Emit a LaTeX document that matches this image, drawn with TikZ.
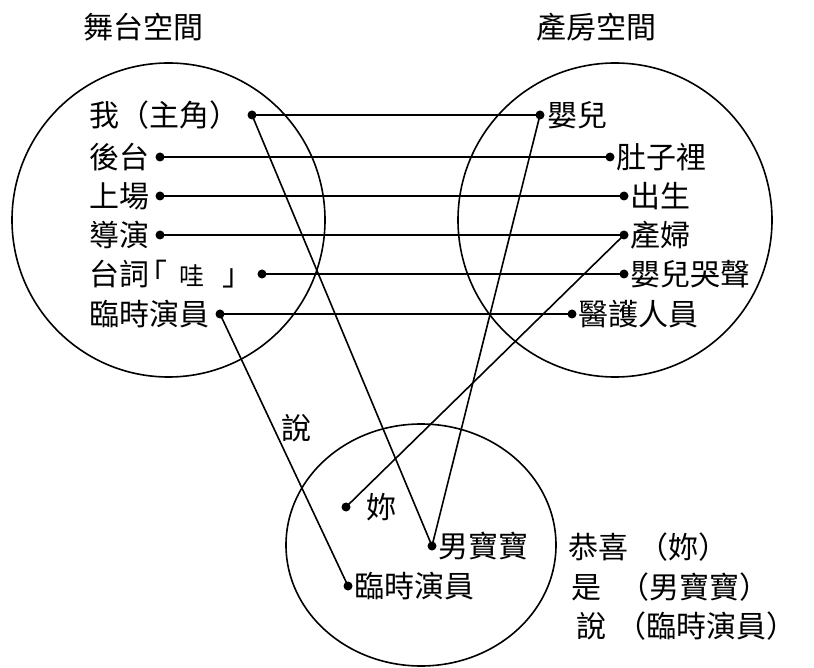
\documentclass[tikz,border=0pt]{standalone}
\usepackage{fontspec}
\newfontfamily\cjk{Noto Sans CJK TC}
\begin{document}
\begin{tikzpicture}[x=1pt,y=-1pt,
  lbl/.style={font=\cjk\fontsize{30}{32}\selectfont, inner sep=0pt},
  lw/.style={lbl, anchor=west},
  dotpt/.style={circle, fill=black, inner sep=0pt, minimum size=9pt},
  link/.style={line width=1.6pt},
  ring/.style={line width=1.6pt}]
\useasboundingbox (0,0) rectangle (814,668);
% circles
\draw[ring] (168.5,220) ellipse [x radius=156.5, y radius=157];
\draw[ring] (615,220) ellipse [x radius=157, y radius=157];
\draw[ring] (421,545) ellipse [x radius=135, y radius=121];
% titles
\node[lbl] (t1) at (143,27) {舞台空間};
\node[lbl] (t2) at (596,27) {產房空間};
% left labels
\node[lw] (l1) at (89,115) {我（主角）};
\node[lw] (l2) at (89,157) {後台};
\node[lw] (l3) at (89,196) {上場};
\node[lw] (l4) at (89,235) {導演};
\node[lw] (l5) at (89,274) {台詞\hspace{-12pt}「\hspace{12pt}{\fontsize{25}{27}\selectfont 哇}\hspace{18pt}」};
\node[lw] (l6) at (89,314) {臨時演員};
% left dots
\node[dotpt] (a1) at (252,115) {};
\node[dotpt] (a2) at (160,157) {};
\node[dotpt] (a3) at (160,196) {};
\node[dotpt] (a4) at (160,235) {};
\node[dotpt] (a5) at (262,274) {};
\node[dotpt] (a6) at (220,314) {};
% right dots
\node[dotpt] (b1) at (540,115) {};
\node[dotpt] (b2) at (610,157) {};
\node[dotpt] (b3) at (624,196) {};
\node[dotpt] (b4) at (624,235) {};
\node[dotpt] (b5) at (624,274) {};
\node[dotpt] (b6) at (572,314) {};
% right labels
\node[lw] (r1) at (547,115) {嬰兒};
\node[lw] (r2) at (616,157) {肚子裡};
\node[lw] (r3) at (630,196) {出生};
\node[lw] (r4) at (630,235) {產婦};
\node[lw] (r5) at (630,274) {嬰兒哭聲};
\node[lw] (r6) at (578,314) {醫護人員};
% bottom dots and labels
\node[dotpt] (c1) at (346,507) {};
\node[dotpt] (c2) at (432,546) {};
\node[dotpt] (c3) at (348,586) {};
\node[lw] (n1) at (366,507) {妳};
\node[lw] (n2) at (438,546) {男寶寶};
\node[lw] (n3) at (354,586) {臨時演員};
% side texts
\node[lw] (s1) at (568,547) {恭喜\hspace{10pt}（妳）};
\node[lw] (s2) at (571,587) {是\hspace{18pt}（男寶寶）};
\node[lw] (s3) at (576,626) {說\hspace{10pt}（臨時演員）};
\node[lbl] (say) at (296,428) {說};
% connectors
\draw[link] (a1.center) -- (b1.center);
\draw[link] (a1.center) -- (c2.center);
\draw[link] (b1.center) -- (c2.center);
\draw[link] (a2.center) -- (b2.center);
\draw[link] (a3.center) -- (b3.center);
\draw[link] (a4.center) -- (b4.center);
\draw[link] (b4.center) -- (c1.center);
\draw[link] (a5.center) -- (b5.center);
\draw[link] (a6.center) -- (b6.center);
\draw[link] (a6.center) -- (c3.center);
\end{tikzpicture}
\end{document}
